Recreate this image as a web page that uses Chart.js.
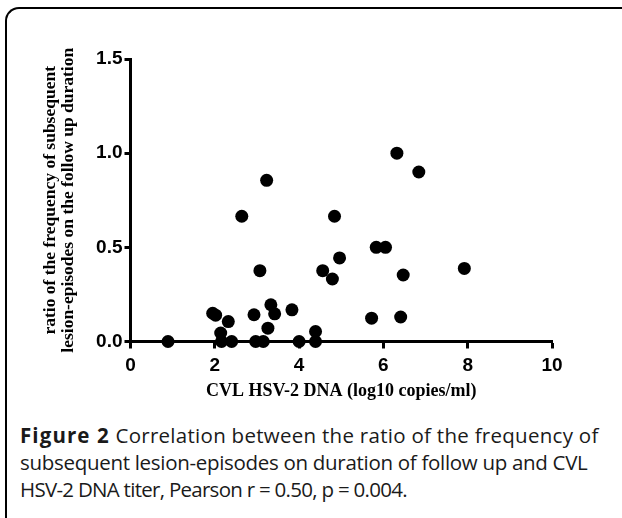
<!DOCTYPE html>
<html>
<head>
<meta charset="utf-8">
<script src="https://cdn.jsdelivr.net/npm/chart.js@4"></script>
<style>
  body { margin: 0; background: #fff; width: 622px; height: 518px; overflow: hidden; position: relative; }
  #frame { position: absolute; left: 5px; top: 7px; width: 640px; height: 530px;
           border-top: 2px solid #000; border-left: 2px solid #000; border-top-left-radius: 14px; box-sizing: border-box; }
  #wrap { position: absolute; left: 0; top: 0; width: 622px; height: 415px; }
  #caption { position: absolute; left: 20px; top: 422px; width: 610px; white-space: nowrap;
             font-family: "Open Sans", sans-serif; font-size: 20.5px; line-height: 27px; color: #1a1a1a; }
  #caption b { font-weight: 700; letter-spacing: 1.1px; }
  .l1 { letter-spacing: 0.28px; }
  .l2 { letter-spacing: -0.3px; }
  .l3 { letter-spacing: -0.72px; }
</style>
</head>
<body>
<div id="frame"></div>
<div id="wrap"><canvas id="grafico" width="622" height="415"></canvas></div>
<div id="caption"><b>Figure 2</b><span class="l1"> Correlation between the ratio of the frequency of</span><br><span class="l2">subsequent lesion-episodes on duration of follow up and CVL</span><br><span class="l3">HSV-2 DNA titer, Pearson r = 0.50, p = 0.004.</span></div>
<script>
// CVL HSV-2 DNA (log10 copies/ml)
var cvl = [0.89, 1.95, 2.02, 2.14, 2.16, 2.32, 2.40, 2.64, 2.93, 2.97, 3.07, 3.15, 3.23, 3.26, 3.33, 3.42,
           3.83, 4.00, 4.39, 4.39, 4.56, 4.79, 4.84, 4.96, 5.72, 5.83, 6.05, 6.32, 6.41, 6.47, 6.84, 7.92];
// ratio of lesion-episode frequency on follow up duration
var ratio = [0, 0.15, 0.14, 0.045, 0, 0.106, 0, 0.665, 0.142, 0, 0.376, 0, 0.856, 0.071, 0.195, 0.147,
             0.168, 0, 0.053, 0, 0.376, 0.332, 0.665, 0.444, 0.124, 0.5, 0.5, 1.0, 0.13, 0.353, 0.9, 0.388];
var xTicks = [0, 2, 4, 6, 8, 10];
var yTicks = [0, 0.5, 1.0, 1.5];

var pontos = cvl.map(function (v, i) { return { x: v, y: ratio[i] }; });

var ctx = document.getElementById('grafico');
var myChart = new Chart(ctx, {
    type: 'scatter',
    data: {
        datasets: [{
            data: pontos,
            backgroundColor: '#000',
            borderColor: '#000',
            borderWidth: 0,
            pointRadius: 6.5,
            pointHoverRadius: 6.5,
            clip: false
        }]
    },
    options: {
        responsive: false,
        animation: false,
        events: [],
        layout: { padding: { top: 59, right: 70, left: 0, bottom: 0 } },
        plugins: { legend: { display: false }, tooltip: { enabled: false } },
        scales: {
            x: {
                type: 'linear',
                min: xTicks[0],
                max: xTicks[xTicks.length - 1],
                afterBuildTicks: function (s) { s.ticks = xTicks.map(function (v) { return { value: v }; }); },
                afterFit: function (s) { s.height = 73.5; },
                border: { display: true, width: 3, color: '#000' },
                grid: { drawOnChartArea: false, drawTicks: true, tickLength: 7, tickWidth: 3, tickColor: '#000' },
                ticks: { color: '#000', padding: 6, maxRotation: 0,
                         font: { family: 'Liberation Sans, Arial', size: 19, weight: 'bold' } },
                title: { display: true, text: 'CVL HSV-2 DNA (log10 copies/ml)', color: '#000',
                         padding: { top: 0, bottom: 13 },
                         font: { family: 'Liberation Serif, Times New Roman', size: 18, weight: 'bold', lineHeight: 1.2 } }
            },
            y: {
                min: yTicks[0],
                max: yTicks[yTicks.length - 1],
                afterBuildTicks: function (s) { s.ticks = yTicks.map(function (v) { return { value: v }; }); },
                afterFit: function (s) { s.width = 130.5; },
                border: { display: true, width: 3, color: '#000' },
                grid: { drawOnChartArea: false, drawTicks: true, tickLength: 6, tickWidth: 3, tickColor: '#000' },
                ticks: { color: '#000', padding: 2,
                         callback: function (v) { return Number(v).toFixed(1); },
                         font: { family: 'Liberation Sans, Arial', size: 19, weight: 'bold' } },
                title: { display: true,
                         text: ['ratio of the frequency of subsequent', 'lesion-episodes on the follow up duration'],
                         color: '#000',
                         padding: { top: 42, bottom: 0 },
                         font: { family: 'Liberation Serif, Times New Roman', size: 17.5, weight: 'bold', lineHeight: 1.0 } }
            }
        }
    }
});
</script>
</body>
</html>
